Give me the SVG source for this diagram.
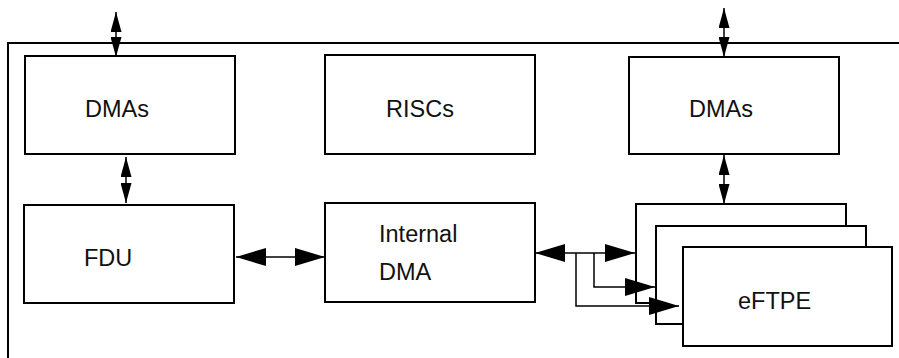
<svg xmlns="http://www.w3.org/2000/svg" width="899" height="358" viewBox="0 0 899 358">
<style>
.box{fill:#fff;stroke:#000;stroke-width:2}
.frame{fill:none;stroke:#000;stroke-width:2}
.lbl{font-family:"Liberation Sans",Arial,sans-serif;font-size:23.5px;fill:#111}
.big{fill:none;stroke:#000;stroke-width:1.5;marker-end:url(#ah)}
.bigb{fill:none;stroke:#000;stroke-width:1.5;marker-start:url(#ah);marker-end:url(#ah)}
.sm{fill:none;stroke:#000;stroke-width:1.5;marker-start:url(#as);marker-end:url(#as)}
.ln{fill:none;stroke:#000;stroke-width:1.5}
</style>
<defs>
<marker id="ah" viewBox="0 0 30 18" markerWidth="30" markerHeight="18" refX="30" refY="9" markerUnits="userSpaceOnUse" orient="auto-start-reverse"><path d="M0,0 L30,9 L0,18 z" fill="#000"/></marker>
<marker id="as" viewBox="0 0 20 11" markerWidth="20" markerHeight="11" refX="20" refY="5.5" markerUnits="userSpaceOnUse" orient="auto-start-reverse"><path d="M0,0 L20,5.5 L0,11 z" fill="#000"/></marker>
</defs>
<g id="frame"><path class="frame" d="M8,358 V43 H899"/></g>
<g id="dmas-left"><rect class="box" x="25" y="56" width="210" height="98"/><text class="lbl" x="85" y="117">DMAs</text></g>
<g id="riscs"><rect class="box" x="325" y="55" width="210" height="99"/><text class="lbl" x="386" y="117">RISCs</text></g>
<g id="dmas-right"><rect class="box" x="629" y="57" width="210" height="97"/><text class="lbl" x="689" y="117">DMAs</text></g>
<g id="fdu"><rect class="box" x="24" y="205" width="210" height="98"/><text class="lbl" x="84" y="266">FDU</text></g>
<g id="internal-dma"><rect class="box" x="325" y="203" width="210" height="99"/><text class="lbl" x="379" y="242">Internal</text><text class="lbl" x="379" y="280">DMA</text></g>
<g id="eftpe"><rect class="box" x="636" y="204" width="210" height="99"/><rect class="box" x="656" y="226" width="210" height="98"/><rect class="box" x="683" y="247" width="209" height="99"/><text class="lbl" x="738" y="309">eFTPE</text></g>
<g id="connectors">
<path class="sm" d="M116,12 V57"/>
<path class="sm" d="M126,157 V203"/>
<path class="sm" d="M724,8 V57"/>
<path class="sm" d="M724,155 V204"/>
<path class="bigb" d="M236,257 H325"/>
<path class="bigb" d="M535,253 H635"/>
<path class="ln" d="M594,253 V287 H627"/>
<path class="big" d="M626,287 H655"/>
<path class="ln" d="M576,253 V306 H650"/>
<path class="big" d="M649,306 H679"/>
</g>
</svg>
